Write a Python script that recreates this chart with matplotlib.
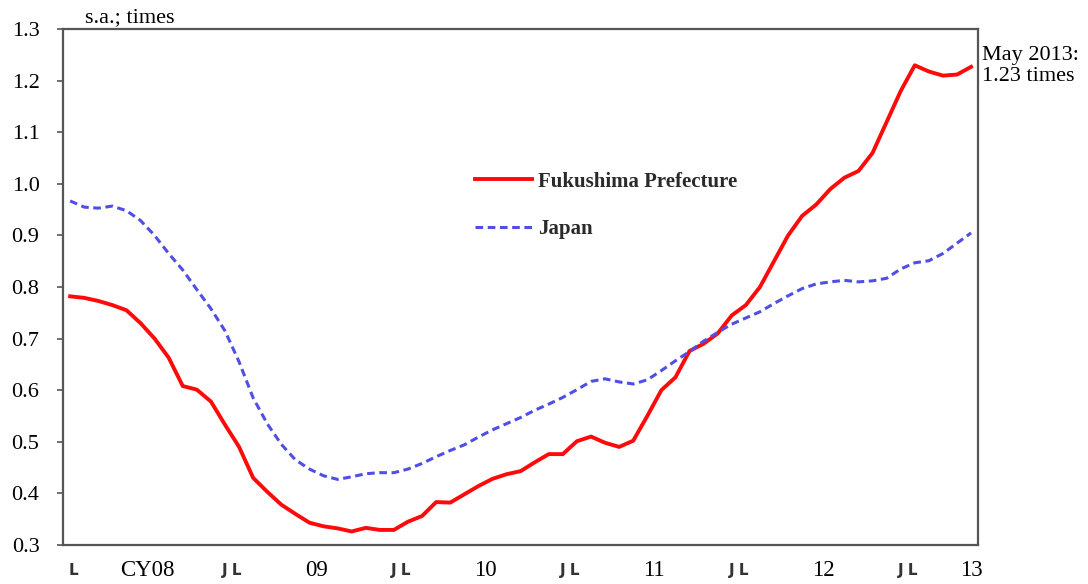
import matplotlib
matplotlib.use("Agg")
import matplotlib.pyplot as plt

plt.rcParams['font.family'] = ['Liberation Serif', 'DejaVu Serif']

# Monthly, Jan 2008 - May 2013 (65 months), jobs-to-applicants ratio, s.a.
fukushima = [0.782, 0.779, 0.773, 0.765, 0.755, 0.730, 0.700, 0.663, 0.608, 0.601,
             0.578, 0.533, 0.490, 0.430, 0.403, 0.378, 0.360, 0.343, 0.336, 0.332,
             0.326, 0.333, 0.329, 0.329, 0.345, 0.356, 0.383, 0.382, 0.398, 0.414,
             0.428, 0.437, 0.443, 0.460, 0.476, 0.476, 0.501, 0.510, 0.498, 0.490,
             0.502, 0.550, 0.600, 0.625, 0.676, 0.690, 0.710, 0.745, 0.765, 0.800,
             0.850, 0.900, 0.938, 0.960, 0.990, 1.012, 1.025, 1.060, 1.120, 1.180,
             1.230, 1.218, 1.210, 1.212, 1.227]
japan = [0.967, 0.955, 0.953, 0.957, 0.948, 0.929, 0.900, 0.865, 0.833, 0.795,
         0.758, 0.715, 0.655, 0.585, 0.535, 0.495, 0.465, 0.447, 0.434, 0.427,
         0.432, 0.438, 0.440, 0.440, 0.447, 0.458, 0.471, 0.483, 0.494, 0.509,
         0.523, 0.535, 0.547, 0.561, 0.573, 0.586, 0.601, 0.617, 0.622, 0.616,
         0.612, 0.620, 0.638, 0.657, 0.675, 0.695, 0.712, 0.728, 0.740, 0.752,
         0.768, 0.783, 0.797, 0.806, 0.810, 0.813, 0.810, 0.812, 0.817, 0.835,
         0.847, 0.851, 0.865, 0.885, 0.905]
months = list(range(len(fukushima)))

# x labels: year names centred on each year, "J L" marks at year boundaries
tick_pos = [0.2, 5.5, 11.5, 17.5, 23.5, 29.5, 35.5, 41.5, 47.5, 53.5, 59.5, 64]
tick_lab = ['L', 'CY08', 'J L', '09', 'J L', '10', 'J L', '11', 'J L', '12', 'J L', '13']

fig = plt.figure(figsize=(10.88, 5.84), dpi=100)
ax = fig.add_axes([0.058, 0.067, 0.841, 0.883])

ax.plot(months, fukushima, color='#ff0a0a', lw=2.8, label='Fukushima Prefecture')
ax.plot(months, japan, color='#4f4fe6', lw=2.2, dashes=(2.5, 1.5), label='Japan')

ax.set_xlim(-0.5, len(months) - 0.5)
ax.set_ylim(0.3, 1.3)
ax.set_yticks([0.3 + 0.1 * k for k in range(11)])
ax.set_yticklabels(['%.1f' % (0.3 + 0.1 * k) for k in range(11)], fontsize=16)
ax.set_xticks(tick_pos)
ax.set_xticklabels(tick_lab, fontsize=16.5)
# the boundary marks are small sans glyphs, sitting a little lower
for t in ax.get_xticklabels():
    if t.get_text() in ('J L', 'L'):
        t.set_fontfamily('DejaVu Sans')
        t.set_fontsize(11)
        t.set_fontweight('bold')
        t.set_color('#333333')
        t.set_y(-0.006)
ax.tick_params(axis='x', length=0, pad=11)
ax.tick_params(axis='y', length=4, width=1.2, color='#555555', pad=13)

for s in ax.spines.values():
    s.set_color('#555555')
    s.set_linewidth(1.6)

ax.text(0.024, 1.003, 's.a.; times', transform=ax.transAxes, fontsize=16,
        ha='left', va='bottom')
ax.text(1.004, 0.968, 'May 2013:\n1.23 times', transform=ax.transAxes, fontsize=16,
        ha='left', va='top', linespacing=1.15)

leg = ax.legend(loc='upper left', bbox_to_anchor=(0.43, 0.76), frameon=False,
                handlelength=2.7, labelspacing=1.3, handletextpad=0.3,
                prop={'weight': 'bold', 'size': 15})
for t in leg.get_texts():
    t.set_color('#2a2a2a')

fig.savefig('out.png', dpi=100)
